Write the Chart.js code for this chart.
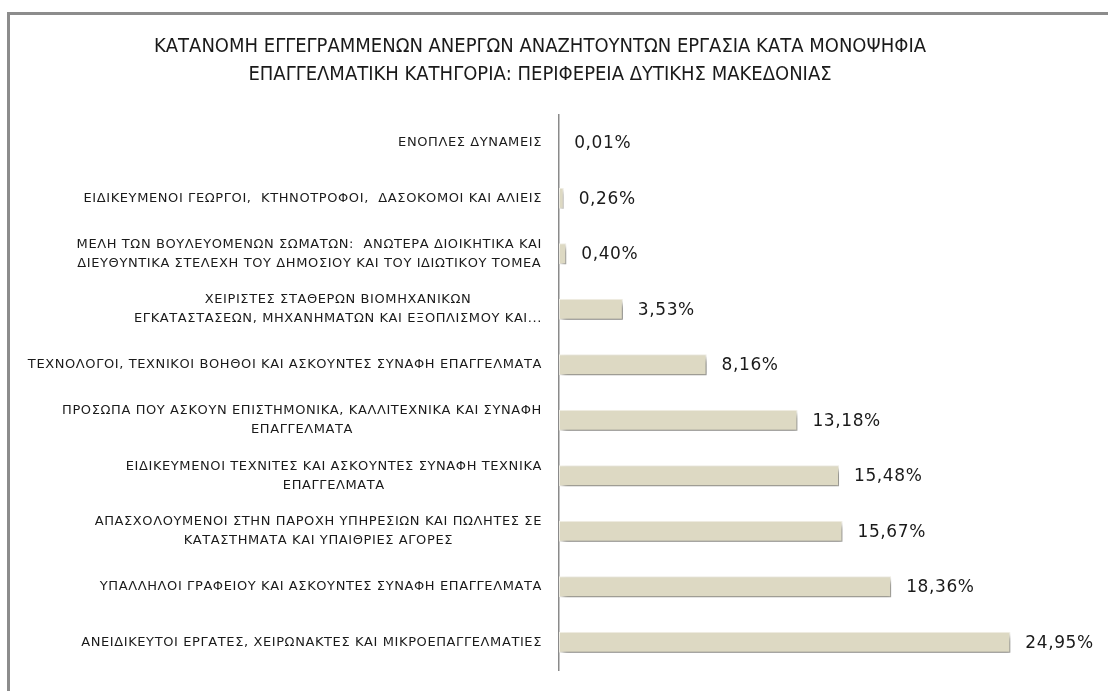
<!DOCTYPE html>
<html lang="el">
<head>
<meta charset="utf-8">
<title>Κατανομή ανέργων - Δυτική Μακεδονία</title>
<script src="https://cdn.jsdelivr.net/npm/chart.js@4.4.1/dist/chart.umd.min.js"></script>
<style>
  html, body { margin: 0; padding: 0; background: #ffffff; overflow: hidden; }
  .frame {
    position: absolute; left: 7px; top: 12px; width: 1200px; height: 800px;
    border-left: 3px solid #8c8c8c; border-top: 3px solid #8c8c8c;
  }
  #chart { position: absolute; left: 0; top: 0; }
</style>
</head>
<body>
<div class="frame"></div>
<canvas id="chart" width="1108" height="691"></canvas>
<script>
const TITLE = [
  `ΚΑΤΑΝΟΜΗ ΕΓΓΕΓΡΑΜΜΕΝΩΝ ΑΝΕΡΓΩΝ ΑΝΑΖΗΤΟΥΝΤΩΝ ΕΡΓΑΣΙΑ ΚΑΤΑ ΜΟΝΟΨΗΦΙΑ`,
  `ΕΠΑΓΓΕΛΜΑΤΙΚΗ ΚΑΤΗΓΟΡΙΑ: ΠΕΡΙΦΕΡΕΙΑ ΔΥΤΙΚΗΣ ΜΑΚΕΔΟΝΙΑΣ`
];

// top to bottom, as in the picture
const categories = [
  `ΕΝΟΠΛΕΣ ΔΥΝΑΜΕΙΣ`,
  `ΕΙΔΙΚΕΥΜΕΝΟΙ ΓΕΩΡΓΟΙ,  ΚΤΗΝΟΤΡΟΦΟΙ,  ΔΑΣΟΚΟΜΟΙ ΚΑΙ ΑΛΙΕΙΣ`,
  [`ΜΕΛΗ ΤΩΝ ΒΟΥΛΕΥΟΜΕΝΩΝ ΣΩΜΑΤΩΝ:  ΑΝΩΤΕΡΑ ΔΙΟΙΚΗΤΙΚΑ ΚΑΙ`, `ΔΙΕΥΘΥΝΤΙΚΑ ΣΤΕΛΕΧΗ ΤΟΥ ΔΗΜΟΣΙΟΥ ΚΑΙ ΤΟΥ ΙΔΙΩΤΙΚΟΥ ΤΟΜΕΑ`],
  [`ΧΕΙΡΙΣΤΕΣ ΣΤΑΘΕΡΩΝ ΒΙΟΜΗΧΑΝΙΚΩΝ`, `ΕΓΚΑΤΑΣΤΑΣΕΩΝ, ΜΗΧΑΝΗΜΑΤΩΝ ΚΑΙ ΕΞΟΠΛΙΣΜΟΥ ΚΑΙ...`],
  `ΤΕΧΝΟΛΟΓΟΙ, ΤΕΧΝΙΚΟΙ ΒΟΗΘΟΙ ΚΑΙ ΑΣΚΟΥΝΤΕΣ ΣΥΝΑΦΗ ΕΠΑΓΓΕΛΜΑΤΑ`,
  [`ΠΡΟΣΩΠΑ ΠΟΥ ΑΣΚΟΥΝ ΕΠΙΣΤΗΜΟΝΙΚΑ, ΚΑΛΛΙΤΕΧΝΙΚΑ ΚΑΙ ΣΥΝΑΦΗ`, `ΕΠΑΓΓΕΛΜΑΤΑ`],
  [`ΕΙΔΙΚΕΥΜΕΝΟΙ ΤΕΧΝΙΤΕΣ ΚΑΙ ΑΣΚΟΥΝΤΕΣ ΣΥΝΑΦΗ ΤΕΧΝΙΚΑ`, `ΕΠΑΓΓΕΛΜΑΤΑ`],
  [`ΑΠΑΣΧΟΛΟΥΜΕΝΟΙ ΣΤΗΝ ΠΑΡΟΧΗ ΥΠΗΡΕΣΙΩΝ ΚΑΙ ΠΩΛΗΤΕΣ ΣΕ`, `ΚΑΤΑΣΤΗΜΑΤΑ ΚΑΙ ΥΠΑΙΘΡΙΕΣ ΑΓΟΡΕΣ`],
  `ΥΠΑΛΛΗΛΟΙ ΓΡΑΦΕΙΟΥ ΚΑΙ ΑΣΚΟΥΝΤΕΣ ΣΥΝΑΦΗ ΕΠΑΓΓΕΛΜΑΤΑ`,
  `ΑΝΕΙΔΙΚΕΥΤΟΙ ΕΡΓΑΤΕΣ, ΧΕΙΡΩΝΑΚΤΕΣ ΚΑΙ ΜΙΚΡΟΕΠΑΓΓΕΛΜΑΤΙΕΣ`
];

const shares = [0.01, 0.26, 0.40, 3.53, 8.16, 13.18, 15.48, 15.67, 18.36, 24.95];

const BAR_COLOR = `#ddd9c3`;
const TEXT_COLOR = `#1a1a1a`;
const LABEL_FONT = `13px "DejaVu Sans", sans-serif`;
const LABEL_LINE_HEIGHT = 19;
const VALUE_FONT = `17px "DejaVu Sans", sans-serif`;

const formatShare = (value) => `${value.toFixed(2).replace(`.`, `,`)}%`;

// soft drop shadow under the bars, like the Excel original
const barShadow = {
  id: `barShadow`,
  beforeDatasetsDraw(chart) {
    const ctx = chart.ctx;
    ctx.save();
    ctx.shadowColor = `rgba(0, 0, 0, 0.5)`;
    ctx.shadowBlur = 5;
    ctx.shadowOffsetX = 3;
    ctx.shadowOffsetY = 4;
  },
  afterDatasetsDraw(chart) {
    chart.ctx.restore();
  }
};

// category names: block right-aligned to the axis, lines centred inside it
const categoryLabels = {
  id: `categoryLabels`,
  afterDraw(chart) {
    const {ctx, chartArea, scales: {y}} = chart;
    const right = chartArea.left - 17;

    ctx.save();
    ctx.font = LABEL_FONT;
    ctx.fillStyle = TEXT_COLOR;
    ctx.textAlign = `center`;
    ctx.textBaseline = `middle`;
    ctx.letterSpacing = `0.6px`;

    categories.forEach((label, i) => {
      const lines = [].concat(label);
      const blockWidth = Math.max(...lines.map((line) => ctx.measureText(line).width));
      const cx = right - blockWidth / 2;
      const cy = y.getPixelForValue(i);

      lines.forEach((line, j) => {
        ctx.fillText(line, cx, cy + (j - (lines.length - 1) / 2) * LABEL_LINE_HEIGHT);
      });
    });
    ctx.restore();
  }
};

const valueLabels = {
  id: `valueLabels`,
  afterDraw(chart) {
    const ctx = chart.ctx;
    const bars = chart.getDatasetMeta(0).data;

    ctx.save();
    ctx.font = VALUE_FONT;
    ctx.fillStyle = TEXT_COLOR;
    ctx.textAlign = `left`;
    ctx.textBaseline = `middle`;
    ctx.letterSpacing = `0.6px`;

    bars.forEach((bar, i) => {
      ctx.fillText(formatShare(shares[i]), bar.x + 15, bar.y + 1);
    });
    ctx.restore();
  }
};

new Chart(document.getElementById(`chart`), {
  type: `bar`,
  plugins: [barShadow, categoryLabels, valueLabels],
  data: {
    labels: categories,
    datasets: [{
      data: shares,
      backgroundColor: BAR_COLOR,
      borderColor: `#f3f1e8`,
      borderWidth: 1,
      borderSkipped: false,
      barPercentage: 0.38,
      categoryPercentage: 1
    }]
  },
  options: {
    indexAxis: `y`,
    responsive: false,
    animation: false,
    devicePixelRatio: 1,
    layout: {
      padding: {top: 0, right: 28, bottom: 21, left: 0}
    },
    scales: {
      x: {
        display: false,
        min: 0,
        max: 28.8
      },
      y: {
        grid: {display: false},
        border: {display: true, color: `#8a8a8a`, width: 1.5},
        ticks: {display: false},
        afterFit(scale) {
          scale.width = 559;
        }
      }
    },
    plugins: {
      legend: {display: false},
      tooltip: {enabled: false},
      title: {
        display: true,
        text: TITLE,
        color: TEXT_COLOR,
        font: {family: `"DejaVu Sans Condensed", "DejaVu Sans", sans-serif`, size: 20, weight: `normal`, lineHeight: 1.4},
        padding: {top: 33, bottom: 26}
      }
    }
  }
});
</script>
</body>
</html>
